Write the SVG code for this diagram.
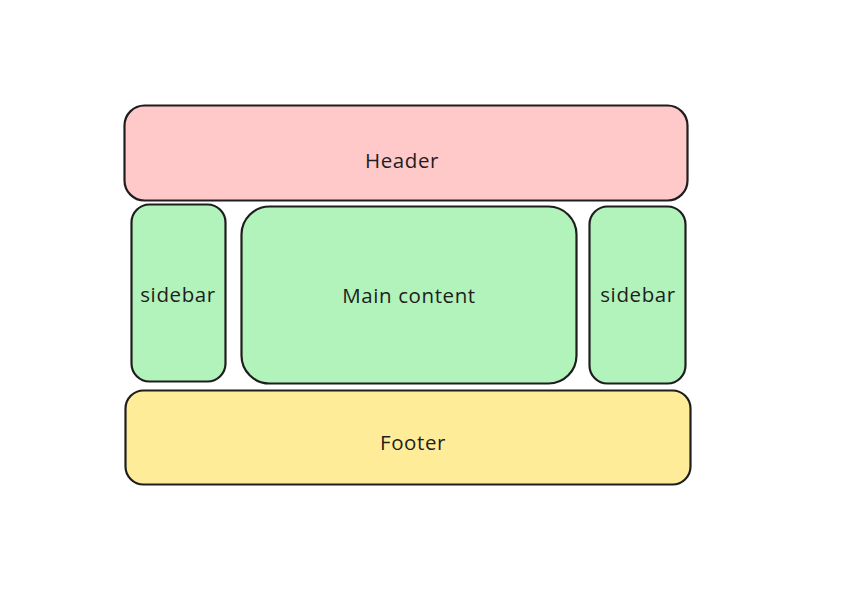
<svg xmlns="http://www.w3.org/2000/svg" width="863" height="607" viewBox="0 0 863 607">
<style>
.box{stroke:#1e1e1e;stroke-width:2.2;stroke-linejoin:round}
.red{fill:#ffc9c9}
.green{fill:#b2f2bb}
.yellow{fill:#ffec99}
.lbl{font-family:"Open Sans","Liberation Sans",sans-serif;font-size:20.5px;fill:#1e1e1e;text-anchor:middle;dominant-baseline:central;letter-spacing:0.6px}
</style>
<rect width="863" height="607" fill="#ffffff"/>
<g id="header">
<rect class="box red" x="124.5" y="105.5" width="563" height="95" rx="20"/>
<text class="lbl" x="402" y="160">Header</text>
</g>
<g id="sidebar-left">
<rect class="box green" x="131.5" y="204.5" width="94" height="177" rx="18"/>
<text class="lbl" x="178" y="294">sidebar</text>
</g>
<g id="main-content">
<rect class="box green" x="241.5" y="206.5" width="335" height="177" rx="28"/>
<text class="lbl" x="409" y="295">Main content</text>
</g>
<g id="sidebar-right">
<rect class="box green" x="589.5" y="206.5" width="96" height="177" rx="18"/>
<text class="lbl" x="638" y="294">sidebar</text>
</g>
<g id="footer">
<rect class="box yellow" x="125.5" y="390.5" width="565" height="94" rx="18"/>
<text class="lbl" x="413" y="442">Footer</text>
</g>
<g id="connectors"></g>
</svg>
